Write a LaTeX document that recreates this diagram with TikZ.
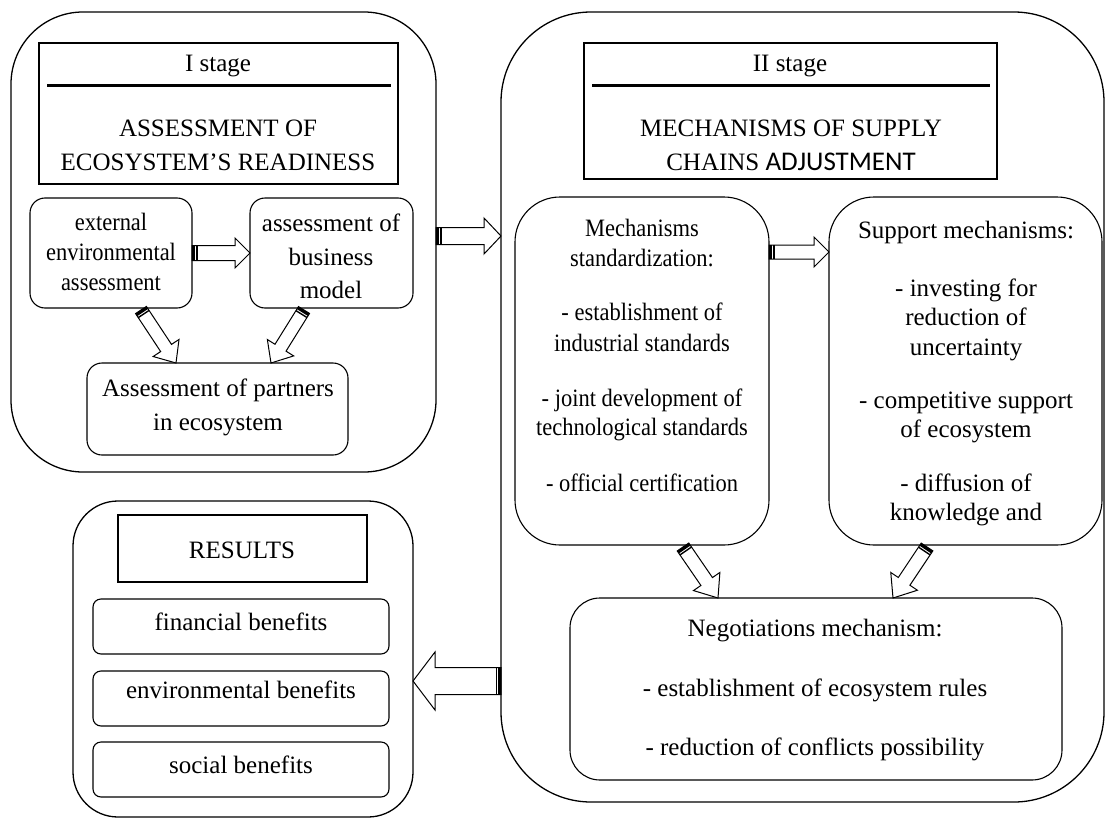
\documentclass[tikz,border=0pt]{standalone}
\usepackage{fontspec}
\setmainfont{Liberation Serif}
\newfontfamily\condfont[FakeStretch=0.9]{Liberation Serif}
\newfontfamily\carlfont{Carlito}
\usetikzlibrary{calc,fit}
\tikzset{
  bigbox/.style={draw, line width=1.3pt, rounded corners=#1, inner sep=0pt, outer sep=0pt},
  bigbox/.default=40pt,
  smallbox/.style={draw, line width=1.1pt, rounded corners=#1, inner sep=0pt, outer sep=0pt},
  smallbox/.default=12pt,
  titlebox/.style={draw, line width=1.1pt, inner sep=0pt, outer sep=0pt},
  txt/.style={anchor=base, inner sep=0pt, font=\fontsize{25}{30}\selectfont},
  ctxt/.style={anchor=base, inner sep=0pt, font=\condfont\fontsize{25}{30}\selectfont},
  arrowline/.style={draw, fill=white, line width=1pt, line join=miter},
  divider/.style={line width=3pt},
}
% block arrow: tail, tip, shaft half width, head half width, head length
\newcommand{\blockarrow}[5]{%
  \coordinate (ba-h) at ($(#2)!#5!(#1)$);
  \coordinate (ba-b) at ($(#1)!3pt!(#2)$);
  \coordinate (ba-c) at ($(#1)!4.8pt!(#2)$);
  \path[arrowline] ($(#1)!#3!90:(#2)$) -- ($(ba-h)!#3!90:(#2)$) -- ($(ba-h)!#4!90:(#2)$) -- (#2)
     -- ($(ba-h)!#4!-90:(#2)$) -- ($(ba-h)!#3!-90:(#2)$) -- ($(#1)!#3!-90:(#2)$) -- cycle;
  \fill ($(#1)!#3!90:(#2)$) -- ($(#1)!#3!-90:(#2)$) -- ($(ba-b)!#3!-90:(#2)$) -- ($(ba-b)!#3!90:(#2)$) -- cycle;
  \draw[line width=1.4pt] ($(ba-c)!#3!90:(#2)$) -- ($(ba-c)!#3!-90:(#2)$);
}
\newcommand{\tline}[4]{\node[txt] (#1) at (#2,#3) {#4};}
\newcommand{\condline}[4]{\node[ctxt] (#1) at (#2,#3) {#4};}
\begin{document}
\begin{tikzpicture}[x=1pt,y=-1pt]
\useasboundingbox (0,0) rectangle (1106,819);
% ---------- Stage I ----------
\node[bigbox=72pt, fit={(11,12)(436,472)}] (s1) {};
\node[titlebox, fit={(39,43)(398,184)}] (t1) {};
\draw[divider] (47,85) -- (391,85);
\tline{t1a}{218}{71}{I stage}
\tline{t1b}{218}{136}{ASSESSMENT OF}
\tline{t1c}{218}{170}{ECOSYSTEM’S READINESS}
\node[smallbox=15pt, fit={(30,198)(192,308)}] (ext) {};
\node[smallbox=15pt, fit={(250,198)(413,308)}] (bus) {};
\node[smallbox=15pt, fit={(87,363)(348,455)}] (par) {};
\condline{e1}{111}{230}{external}
\condline{e2}{111}{260}{environmental}
\condline{e3}{111}{290}{assessment}
\tline{b1}{331}{231}{assessment of}
\tline{b2}{331}{265}{business}
\tline{b3}{331}{298}{model}
\tline{p1}{218}{396}{Assessment of partners}
\tline{p2}{218}{430}{in ecosystem}
% ---------- Stage II ----------
\node[bigbox=90pt, fit={(501,12)(1104,802)}] (s2) {};
\node[titlebox, fit={(584,43)(997,179)}] (t2) {};
\draw[divider] (592,85) -- (990,85);
\tline{t2a}{790}{71}{II stage}
\tline{t2b}{791}{136}{MECHANISMS OF SUPPLY}
\tline{t2c}{791}{170}{CHAINS {\carlfont\fontsize{27}{30}\selectfont ADJUSTMENT}}
\node[smallbox=45pt, fit={(515,197)(769,545)}] (std) {};
\node[smallbox=45pt, fit={(829,197)(1102,545)}] (sup) {};
\node[smallbox=30pt, fit={(570,598)(1062,780)}] (neg) {};
\condline{m1}{642}{236}{Mechanisms}
\condline{m2}{642}{266}{standardization:}
\condline{m3}{642}{320}{- establishment of}
\condline{m4}{642}{351}{industrial standards}
\condline{m5}{642}{406}{- joint development of}
\condline{m6}{642}{435}{technological standards}
\condline{m7}{642}{491}{- official certification}
\tline{u1}{966}{238}{Support mechanisms:}
\tline{u2}{966}{296}{- investing for}
\tline{u3}{966}{325}{reduction of}
\tline{u4}{966}{355}{uncertainty}
\tline{u5}{966}{408}{- competitive support}
\tline{u6}{966}{437}{of ecosystem}
\tline{u7}{966}{491}{- diffusion of}
\tline{u8}{966}{520}{knowledge and}
\tline{n1}{815}{636}{Negotiations mechanism:}
\tline{n2}{815}{696}{- establishment of ecosystem rules}
\tline{n3}{815}{755}{- reduction of conflicts possibility}
% ---------- Results ----------
\node[bigbox=45pt, fit={(73,501)(413,817)}] (res) {};
\node[titlebox, fit={(118,515)(367,582)}] (t3) {};
\tline{r0}{242}{558}{RESULTS}
\node[smallbox=8pt, fit={(93,599)(389,654)}] (fin) {};
\node[smallbox=8pt, fit={(93,671)(389,726)}] (env) {};
\node[smallbox=8pt, fit={(93,742)(389,797)}] (soc) {};
\tline{r1}{241}{630}{financial benefits}
\tline{r2}{241}{698}{environmental benefits}
\tline{r3}{241}{773}{social benefits}
% ---------- connector end points ----------
\coordinate (a1t) at (ext.east);
\coordinate (a1h) at (bus.west);
\coordinate (a2t) at (141,310);
\coordinate (a2h) at (176,363);
\coordinate (a3t) at (304,310);
\coordinate (a3h) at (271,363);
\coordinate (a4t) at (s1.east |- 0,236);
\coordinate (a4h) at (s2.west |- 0,236);
\coordinate (a5t) at (std.east |- 0,252);
\coordinate (a5h) at (sup.west |- 0,252);
\coordinate (a6t) at (683,547);
\coordinate (a6h) at (718,598);
\coordinate (a7t) at (927,547);
\coordinate (a7h) at (893,598);
\coordinate (a8t) at (s2.west |- 0,681);
\coordinate (a8h) at (res.east |- 0,681);
% ---------- arrows ----------
\blockarrow{a1t}{a1h}{7.5pt}{15pt}{15pt}
\blockarrow{a2t}{a2h}{6.5pt}{15.5pt}{18pt}
\blockarrow{a3t}{a3h}{6.5pt}{15.5pt}{18pt}
\blockarrow{a4t}{a4h}{8.5pt}{18pt}{17pt}
\blockarrow{a5t}{a5h}{7pt}{15pt}{15pt}
\blockarrow{a6t}{a6h}{7pt}{16pt}{20pt}
\blockarrow{a7t}{a7h}{7pt}{16pt}{20pt}
\blockarrow{a8t}{a8h}{13.5pt}{29pt}{22pt}
\end{tikzpicture}
\end{document}
